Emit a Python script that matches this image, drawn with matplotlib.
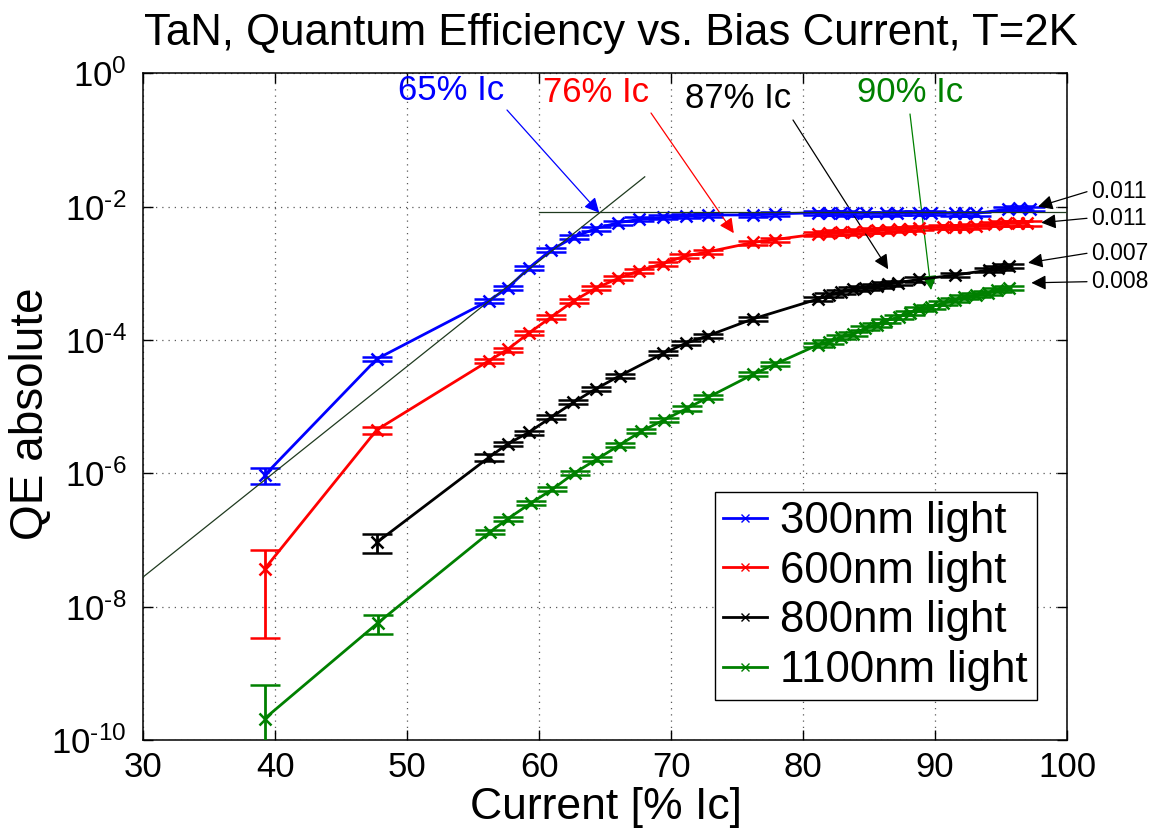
import numpy as np
import matplotlib
matplotlib.use("Agg")
import matplotlib.pyplot as plt
from matplotlib.ticker import FuncFormatter, NullLocator
from matplotlib.lines import Line2D

plt.rcParams['font.family'] = ['Liberation Sans', 'DejaVu Sans']
plt.rcParams['mathtext.fontset'] = 'custom'
plt.rcParams['mathtext.rm'] = 'Liberation Sans'
plt.rcParams['mathtext.it'] = 'Liberation Sans:italic'
plt.rcParams['mathtext.bf'] = 'Liberation Sans:bold'

# data (current in % Ic, QE absolute)
x_300 = [39.2, 47.7, 56.2, 57.6, 59.2, 60.9, 62.65, 64.3, 66.0, 67.6, 69.4, 71.1, 72.8, 76.2, 77.9,
         81.1, 82.0, 82.9, 83.8, 84.8, 86.3, 87.1, 88.8, 89.7, 91.5, 92.2, 93.1, 95.5, 96.4, 97.2]
y_300 = [9.4e-7, 5.2e-5, 3.9e-4, 6.0e-4, 1.19e-3, 2.24e-3, 3.5e-3, 4.7e-3, 5.75e-3, 6.45e-3, 6.9e-3,
         7.2e-3, 7.5e-3, 7.5e-3, 7.8e-3, 8.1e-3, 8.1e-3, 8.0e-3, 7.9e-3, 7.9e-3, 7.9e-3, 8.0e-3,
         8.1e-3, 8.0e-3, 7.9e-3, 7.9e-3, 7.9e-3, 9.2e-3, 9.5e-3, 9.3e-3]
lo_300 = [6.9e-7, 4.9e-5]
hi_300 = [1.19e-6, 5.5e-5]

x_600 = [39.2, 47.7, 56.2, 57.6, 59.2, 60.9, 62.65, 64.3, 66.0, 67.6, 69.4, 71.0, 72.8, 76.2, 77.85,
         81.1, 82.0, 82.9, 83.8, 84.7, 85.6, 86.4, 87.3, 88.1, 88.8, 90.6, 91.5, 92.2, 93.1, 94.5,
         95.4, 96.3, 97.0]
y_600 = [3.7e-8, 4.5e-6, 4.9e-5, 7.2e-5, 1.26e-4, 2.2e-4, 3.9e-4, 6.0e-4, 8.4e-4, 1.1e-3, 1.4e-3,
         1.8e-3, 2.1e-3, 2.9e-3, 3.2e-3, 3.9e-3, 4.0e-3, 4.1e-3, 4.2e-3, 4.3e-3, 4.4e-3, 4.5e-3,
         4.6e-3, 4.7e-3, 4.8e-3, 4.9e-3, 5.0e-3, 5.0e-3, 5.1e-3, 5.5e-3, 5.6e-3, 5.6e-3, 5.6e-3]
lo_600 = [3.35e-9, 3.9e-6]
hi_600 = [7.1e-8, 5.0e-6]

x_800 = [47.7, 56.2, 57.6, 59.2, 60.9, 62.6, 64.3, 66.1, 69.4, 71.1, 72.8, 76.2, 81.1, 82.0, 82.9,
         83.8, 84.7, 85.6, 86.4, 87.2, 88.8, 91.5, 94.1, 94.8, 95.6]
y_800 = [9.2e-8, 1.74e-6, 2.75e-6, 4.1e-6, 6.9e-6, 1.16e-5, 1.85e-5, 2.9e-5, 6.3e-5, 8.9e-5,
         1.16e-4, 2.07e-4, 4.1e-4, 4.7e-4, 5.3e-4, 5.75e-4, 6.1e-4, 6.45e-4, 6.9e-4, 7.25e-4,
         8.1e-4, 9.4e-4, 1.12e-3, 1.19e-3, 1.29e-3]
lo_800 = [6.3e-8, 1.55e-6]
hi_800 = [1.23e-7, 1.95e-6]

x_1100 = [39.2, 47.8, 56.3, 57.65, 59.35, 61.0, 62.7, 64.4, 66.1, 67.75, 69.45, 71.2, 72.8, 76.2,
          77.9, 81.1, 82.0, 82.9, 83.8, 84.7, 85.6, 86.3, 87.3, 88.1, 88.8, 89.7, 90.6, 91.5, 92.2,
          93.1, 94.0, 94.7, 95.6]
y_1100 = [2.1e-10, 5.75e-9, 1.33e-7, 2.1e-7, 3.55e-7, 5.75e-7, 1.02e-6, 1.64e-6, 2.66e-6, 4.3e-6,
          6.3e-6, 9.4e-6, 1.38e-5, 3.05e-5, 4.36e-5, 8.4e-5, 9.4e-5, 1.12e-4, 1.23e-4, 1.5e-4,
          1.68e-4, 1.95e-4, 2.23e-4, 2.56e-4, 2.88e-4, 3.16e-4, 3.55e-4, 3.98e-4, 4.37e-4,
          4.73e-4, 5.13e-4, 5.62e-4, 6.08e-4]
lo_1100 = [1e-14, 3.9e-9]   # lower bar of first point is off the log axis
hi_1100 = [6.7e-10, 7.4e-9]

rel_err = 0.07  # remaining points: small symmetric bars

labels = ['300nm light', '600nm light', '800nm light', '1100nm light']
colors = ['#0000ff', '#ff0000', '#000000', '#008000']

fit_x = [30, 68]
fit_y = [2.8e-8, 2.8e-2]
plateau_x = [60, 100]
plateau_y = [8.2e-3, 8.2e-3]

# label, colour, arrow head (data), text pos / arrow tail (pixels)
ic_notes = [
    ('65% Ic', '#0000ff', (64.55, 8.1e-3), (398, 90), (507, 110)),
    ('76% Ic', '#ff0000', (74.75, 4.0e-3), (543, 93), (651, 113)),
    ('87% Ic', '#000000', (86.45, 1.15e-3), (685, 99), (793, 120)),
    ('90% Ic', '#008000', (89.7, 5.6e-4), (857, 93), (910, 114)),
]
qe_notes = [
    ('0.011', (97.8, 1.0e-2), 191.7),
    ('0.011', (98.05, 5.75e-3), 218.3),
    ('0.007', (97.05, 1.44e-3), 253.3),
    ('0.008', (97.3, 7.2e-4), 281.7),
]

W, H = 1162, 831
fig = plt.figure(figsize=(W / 100, H / 100), dpi=100)
ax = fig.add_axes([143.3 / W, 1 - 740 / H, (1067 - 143.3) / W, (740 - 73.3) / H])


def px(x, y):
    return (x / W, 1 - y / H)


series = [(x_300, y_300, lo_300, hi_300), (x_600, y_600, lo_600, hi_600),
          (x_800, y_800, lo_800, hi_800), (x_1100, y_1100, lo_1100, hi_1100)]

for (xs, ys, lo, hi), c in zip(series, colors):
    ys = np.array(ys)
    lows = ys * (1 - rel_err)
    highs = ys * (1 + rel_err)
    lows[:len(lo)] = lo
    highs[:len(hi)] = hi
    ax.errorbar(xs, ys, yerr=[ys - lows, highs - ys], fmt='-x', color=c, lw=2,
                ms=8, mew=1.8, elinewidth=2, capsize=11, capthick=2.2, zorder=3)

ax.plot(fit_x, fit_y, color='#1f3a1f', lw=0.9, zorder=4)
ax.plot(plateau_x, plateau_y, color='#1f3a1f', lw=0.9, zorder=4)

ax.set_yscale('log')
ax.set_xlim(30, 100)
ax.set_ylim(1e-10, 1)
ax.set_xticks(np.arange(30, 101, 10))
ax.set_yticks([1e0, 1e-2, 1e-4, 1e-6, 1e-8, 1e-10])
ax.yaxis.set_minor_locator(NullLocator())


def exp_label(v, p):
    e = int(round(np.log10(v)))
    s = str(e).replace('-', '\u2010')
    return r'$10^{%s}$' % s


ax.yaxis.set_major_formatter(FuncFormatter(exp_label))
ax.tick_params(direction='in', top=True, right=True, length=7, width=1,
               labelsize=25, pad=8)
ax.tick_params(axis='y', pad=12)
ax.grid(True, linestyle=(0, (1, 4)), color='0.35', lw=0.9)
for s in ax.spines.values():
    s.set_linewidth(1.1)

handles = [Line2D([], [], color=c, lw=2, marker='x', ms=6, mew=1) for c in colors]
ax.legend(handles, labels, loc='lower right', bbox_to_anchor=(0.9672, 0.06),
          fontsize=31.5, fancybox=False, edgecolor='black', framealpha=1,
          handlelength=1.0, handletextpad=0.3, labelspacing=0.2, borderpad=0.2,
          borderaxespad=0)

fig.text(*px(611, 33), 'TaN, Quantum Efficiency vs. Bias Current, T=2K', fontsize=31.5,
         ha='center', va='center')
fig.text(*px(606, 808), 'Current [% Ic]', fontsize=32, ha='center', va='center')
fig.text(*px(31, 414), 'QE absolute', fontsize=33, ha='center', va='center', rotation=90)

for txt, c, head, tpos, tail in ic_notes:
    fig.text(*px(*tpos), txt, color=c, fontsize=25, ha='left', va='center')
    ax.annotate('', xy=head, xycoords='data', xytext=px(*tail), textcoords='figure fraction',
                arrowprops=dict(arrowstyle='-|>', color=c, lw=0.9, mutation_scale=22,
                                shrinkA=0, shrinkB=0), annotation_clip=False)

for txt, head, ty in qe_notes:
    fig.text(*px(1091.5, ty), txt, fontsize=16.5, ha='left', va='center')
    ax.annotate('', xy=head, xycoords='data', xytext=px(1087, ty), textcoords='figure fraction',
                arrowprops=dict(arrowstyle='-|>', color='black', lw=0.9, mutation_scale=22,
                                shrinkA=0, shrinkB=0), annotation_clip=False)

fig.savefig('out.png', dpi=100)
